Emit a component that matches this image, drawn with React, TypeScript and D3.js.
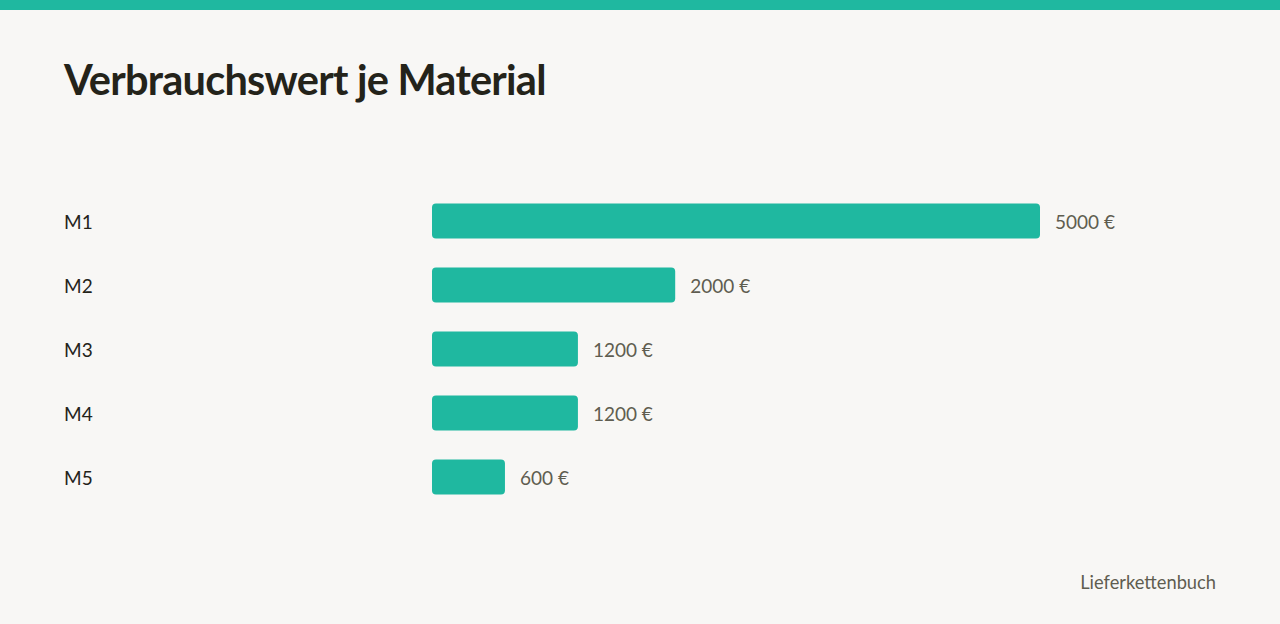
import React from "react";
import * as d3 from "d3";

const categories = ["M1", "M2", "M3", "M4", "M5"];
const values = [5000, 2000, 1200, 1200, 600];
const valueLabels = ["5000 €", "2000 €", "1200 €", "1200 €", "600 €"];
const title = "Verbrauchswert je Material";
const source = "Lieferkettenbuch";

const W = 1280;
const H = 624;
const TEAL = "#1fb8a0";
const FONT = "Lato, 'Noto Sans', sans-serif";

export default function App() {
  const x = d3.scaleLinear().domain([0, 5000]).range([432, 1040]);
  const y = d3.scaleBand<string>().domain(categories).range([189, 509]).paddingInner(0.453).paddingOuter(0.2265);
  return (
    <svg width={W} height={H} style={{ position: "absolute", left: 0, top: 0, display: "block" }}>
      <rect x={0} y={0} width={W} height={H} fill="#f8f7f5" />
      <rect x={0} y={0} width={W} height={10} fill={TEAL} />
      <text x={64} y={95} fontFamily={FONT} fontWeight={700} fontSize={41.5} letterSpacing={-0.75} fill="#24231a">{title}</text>
      {categories.map((c, i) => {
        const yy = y(c)!;
        const cy = yy + y.bandwidth() / 2;
        return (
          <g key={c}>
            <text x={64} y={cy} dy="0.42em" fontFamily={FONT} fontSize={19} fill="#24231a">{c}</text>
            <rect x={x(0)} y={yy} width={x(values[i]) - x(0)} height={y.bandwidth()} rx={4} fill={TEAL} />
            <text x={x(values[i]) + 15} y={cy} dy="0.42em" fontFamily={FONT} fontSize={19} fill="#5f5d50">{valueLabels[i]}</text>
          </g>
        );
      })}
      <text x={1216} y={589} textAnchor="end" fontFamily={FONT} fontSize={18.3} fill="#5f5d50">{source}</text>
    </svg>
  );
}
